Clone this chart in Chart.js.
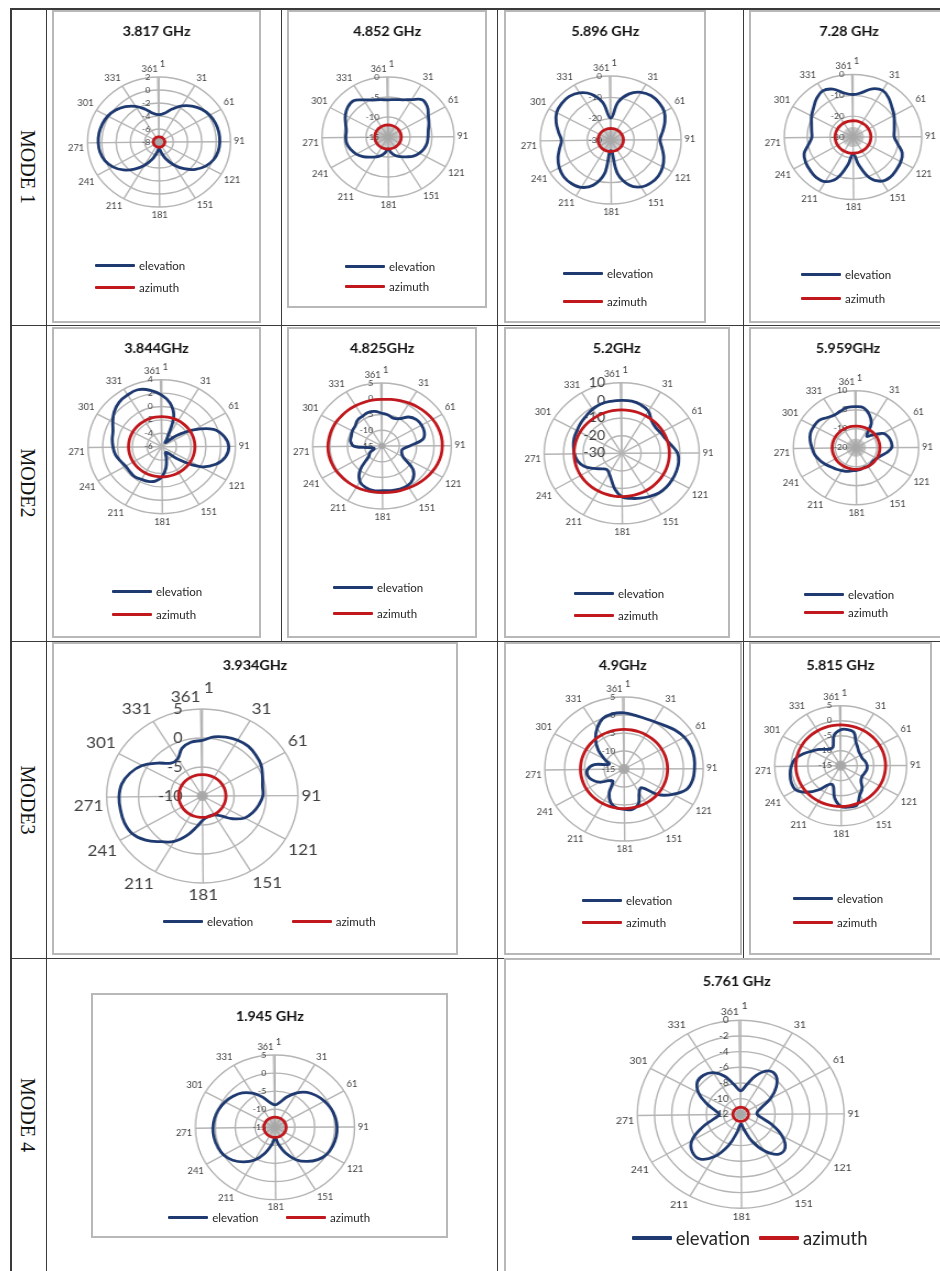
<!DOCTYPE html>
<html>
<head>
<meta charset="utf-8">
<title>Radiation patterns per mode</title>
<script src="https://cdn.jsdelivr.net/npm/chart.js@4.4.1/dist/chart.umd.min.js"></script>
<style>
  html, body { margin: 0; padding: 0; background: #fff; }
  #page { position: relative; width: 940px; height: 1271px; overflow: hidden; font-family: Lato, sans-serif; }
  .rule { position: absolute; background: #3a3a3a; }
  .box { position: absolute; border: 2px solid #b8b8b8; box-sizing: border-box; }
  .plot { position: absolute; transform-origin: 0 0; }
  .mode { position: absolute; font-family: 'Liberation Serif', serif; font-size: 20px; color: #111;
          white-space: nowrap; transform: translate(-50%, -50%) rotate(90deg); }
  .key { position: absolute; height: 20px; display: flex; align-items: center; color: #262626; white-space: nowrap; }
  .key i { display: inline-block; width: 40px; margin-right: 4px; border-radius: 1px; }
</style>
</head>
<body>
<div id="page"></div>
<script>
// ---- values (dB), one reading every 10 rows of the sheet ----
const sampleRows = [1, 11, 21, 31, 41, 51, 61, 71, 81, 91, 101, 111, 121, 131, 141, 151, 161, 171,
  181, 191, 201, 211, 221, 231, 241, 251, 261, 271, 281, 291, 301, 311, 321, 331, 341, 351];

// the spreadsheet rows 1..361 form the angular axis
const categories = Array.from({ length: 361 }, (_, i) => String(i + 1));

const freqLabels = ['3.817 GHz', '4.852 GHz', '5.896 GHz', '7.28 GHz',
  '3.844GHz', '4.825GHz', '5.2GHz', '5.959GHz',
  '3.934GHz', '4.9GHz', '5.815 GHz',
  '1.945 GHz', '5.761 GHz'];
const axisMin  = [-8, -15, -30, -30, -6, -15, -30, -20, -10, -15, -15, -15, -12];
const axisMax  = [2, 0, 0, 0, 4, 5, 10, 10, 5, 5, 5, 5, 0];
const axisStep = [2, 5, 10, 10, 2, 5, 10, 10, 5, 5, 5, 5, 2];
const modeNames = ['MODE 1', 'MODE2', 'MODE3', 'MODE 4'];
const seriesNames = ['elevation', 'azimuth'];

// elevation cuts
const el3817 = [-3.8, -3.5, -2.6, -1.6, -0.8, -0.2, 0.2, 0.4, 0.5, 0.5, 0.4, 0.1, -0.5, -1.4, -2.6, -3.9, -5.2, -6.4,
  -7.0, -6.4, -5.2, -3.9, -2.6, -1.4, -0.5, 0.1, 0.4, 0.5, 0.5, 0.4, 0.2, -0.2, -0.8, -1.6, -2.6, -3.5];
const el4852 = [-5.7, -5.5, -5.1, -4.2, -2.9, -3.3, -4.4, -5.1, -5.7, -5.9, -6, -6.3, -6.8, -7.5, -8.5, -9.3, -10, -11,
  -12, -11, -10, -9.3, -8.5, -7.5, -6.6, -6, -5.5, -5.4, -5.4, -4.8, -3.9, -3.2, -3.0, -4.2, -5.1, -5.5];
const el5896 = [-19.7, -12, -7, -4.2, -3, -3, -3.6, -5.4, -7.5, -9, -7.8, -6, -4.5, -3.6, -3.6, -4.5, -7.5, -14,
  -25, -14, -7.5, -4.5, -3.6, -3.6, -4.5, -6, -7.8, -9, -7.5, -5.4, -3.6, -3, -3, -4.2, -7, -12];
const el728 = [-9.6, -8.4, -5.4, -4.2, -5.7, -7.8, -9.3, -10.8, -11.7, -12, -10.2, -7.2, -6, -5.4, -4.8, -5.4, -9, -16.5,
  -21.9, -16.5, -9, -5.4, -4.8, -5.4, -6, -7.2, -10.2, -12, -11.7, -10.8, -9.3, -7.8, -5.7, -4.2, -5.4, -8.4];
const el3844 = [1.7, 0.6, -1.2, -4.5, -5.2, -3.5, -1, 1.5, 2.6, 3.1, 2.8, 1.8, 0, -3, -4.8, -5, -4.2, -2.8,
  -1.5, -0.8, -0.5, -0.4, -0.2, -0.3, -0.3, 0, 0.4, 0.6, 0.8, 1, 1.6, 2.3, 2.8, 3, 3.1, 2.6];
const el4825 = [-4.6, -5, -5.6, -5, -3, -2, -1.8, -2, -3, -7, -9, -9, -8, -3.4, -1.2, -0.4, -0.4, -0.6,
  -0.8, -0.6, -1, -2, -5, -10, -11, -12.6, -12, -7, -5.8, -5.6, -5.2, -5, -4.2, -4, -3.6, -3.8];
const el52 = [0, 0, -0.8, -2.4, -6, -7.2, -6.8, -6, -4, -1.2, -0.2, 0, 0, 0, -0.4, -1.6, -2.8, -4,
  -5.2, -9.2, -14, -16.8, -18, -16.4, -13.2, -9.2, -6.8, -5.6, -4.8, -4, -3.6, -2.8, -2, -0.8, 0, 0];
const el5959 = [1.6, 1.3, -1.4, -5.3, -12, -9.5, -5, -3.5, -2.9, -2.9, -5, -7.4, -8.6, -9.2, -8.9, -8.6, -8.9, -8.3,
  -8, -7.7, -6.8, -6.2, -5.3, -4.4, -2.9, -1.4, 0.1, 1, 2.2, 3.1, 3.1, 2.8, 1, 0.1, 0.7, 1.6];
const el3934 = [-0.4, 0.35, 0.8, 1.1, 1.2, 0.95, 0.65, 0.05, -0.4, -0.5, -1, -1.6, -2.35, -3.85, -5.5, -6.25, -6.4, -6.25,
  -5.8, -4.6, -2.8, -1, 0.2, 1.7, 2.75, 3.05, 3.05, 3.05, 2.8, 2, 0.8, -1, -2.5, -2.5, -1.15, -0.55];
const el49 = [0.6, 0.2, 0, 0.2, 0.8, 1.8, 2.6, 3, 3, 2.8, 2.6, 1.8, -0.8, -3.8, -8.2, -7.4, -4.6, -3.6,
  -3.8, -4, -5, -7.4, -10.6, -10, -7.8, -6.4, -5.6, -5.8, -7.4, -11, -9.4, -6.6, -4, -1.8, 0, 0.6];
const el5815 = [-3, -2.8, -3.2, -5.8, -7, -7.8, -8, -8, -7.4, -7, -7, -7.4, -7.6, -7, -5, -3.6, -1, -1,
  -1.4, -4, -8, -7.8, -4.6, -1.4, 0.8, 1, 0.6, 0, -1, -3, -5, -6.4, -7.8, -8.6, -8.4, -4.6];
const el1945 = [-8.8, -8, -6, -4, -2.4, -1.4, -0.6, 0, 0.4, 0.6, 0.6, 0.4, 0, -1, -2.6, -4.6, -7.4, -10.2,
  -12, -10.2, -7.4, -4.6, -2.6, -1, 0, 0.4, 0.6, 0.6, 0.4, 0, -0.6, -1.4, -2.4, -4, -6, -8];
const el5761 = [-9, -8.2, -6.7, -5.6, -5.6, -6.6, -8, -9.4, -10, -10.1, -9.6, -8.2, -6.5, -5.3, -5.3, -6.6, -8.4, -10.1,
  -10.8, -9.8, -7.8, -5.8, -4.6, -4.6, -5.4, -7.2, -8.8, -9.5, -9, -7.8, -6.4, -5.5, -5.4, -5.8, -6.8, -8.2];

// azimuth cuts
const az3817 = [-7.2, -7.2, -7.2, -7.2, -7.2, -7.2, -7.2, -7.2, -7.2, -7.2, -7.2, -7.2, -7.2, -7.2, -7.2, -7.2, -7.2, -7.2,
  -7.2, -7.2, -7.2, -7.2, -7.2, -7.2, -7.2, -7.2, -7.2, -7.2, -7.2, -7.2, -7.2, -7.2, -7.2, -7.2, -7.2, -7.2];
const az4852 = [-12, -12, -12, -12, -12, -12, -12, -12, -12, -12, -12, -12, -12, -12, -12, -12, -12, -12,
  -12, -12, -12, -12, -12, -12, -12, -12, -12, -12, -12, -12, -12, -12, -12, -12, -12, -12];
const az5896 = [-24.6, -24.6, -24.6, -24.6, -24.6, -24.6, -24.6, -24.6, -24.6, -24.6, -24.6, -24.6, -24.6, -24.6, -24.6, -24.6, -24.6, -24.6,
  -24.6, -24.6, -24.6, -24.6, -24.6, -24.6, -24.6, -24.6, -24.6, -24.6, -24.6, -24.6, -24.6, -24.6, -24.6, -24.6, -24.6, -24.6];
const az728 = [-22.2, -22.2, -22.2, -22.2, -22.2, -22.2, -22.2, -22.2, -22.2, -22.2, -22.2, -22.2, -22.2, -22.2, -22.2, -22.2, -22.2, -22.2,
  -22.2, -22.2, -22.2, -22.2, -22.2, -22.2, -22.2, -22.2, -22.2, -22.2, -22.2, -22.2, -22.2, -22.2, -22.2, -22.2, -22.2, -22.2];
const az3844 = [-1.5, -1.5, -1.5, -1.5, -1.5, -1.5, -1.5, -1.5, -1.5, -1.5, -1.5, -1.5, -1.5, -1.5, -1.5, -1.5, -1.5, -1.5,
  -1.5, -1.5, -1.5, -1.5, -1.5, -1.5, -1.5, -1.5, -1.5, -1.5, -1.5, -1.5, -1.5, -1.5, -1.5, -1.5, -1.5, -1.5];
const az4825 = [-0.2, 0, 0.3, 0.7, 1.1, 1.5, 1.9, 2.2, 2.4, 2.4, 2.3, 2, 1.6, 1.2, 0.8, 0.4, 0.1, -0.1,
  -0.2, -0.2, -0.1, 0, 0.1, 0.2, 0.4, 0.5, 0.6, 0.6, 0.5, 0.4, 0.3, 0.1, 0, -0.1, -0.2, -0.2];
const az52 = [-5.4, -5.4, -5.4, -5.4, -5.4, -5.4, -5.4, -5.4, -5.4, -5.4, -5.4, -5.4, -5.4, -5.4, -5.4, -5.4, -5.4, -5.4,
  -5.4, -5.4, -5.4, -5.4, -5.4, -5.4, -5.4, -5.4, -5.4, -5.4, -5.4, -5.4, -5.4, -5.4, -5.4, -5.4, -5.4, -5.4];
const az5959 = [-8.6, -8.6, -8.6, -8.6, -8.6, -8.6, -8.6, -8.6, -8.6, -8.6, -8.6, -8.6, -8.6, -8.6, -8.6, -8.6, -8.6, -8.6,
  -8.6, -8.6, -8.6, -8.6, -8.6, -8.6, -8.6, -8.6, -8.6, -8.6, -8.6, -8.6, -8.6, -8.6, -8.6, -8.6, -8.6, -8.6];
const az3934 = [-6.3, -6.3, -6.3, -6.3, -6.3, -6.3, -6.3, -6.3, -6.3, -6.3, -6.3, -6.3, -6.3, -6.3, -6.3, -6.3, -6.3, -6.3,
  -6.3, -6.3, -6.3, -6.3, -6.3, -6.3, -6.3, -6.3, -6.3, -6.3, -6.3, -6.3, -6.3, -6.3, -6.3, -6.3, -6.3, -6.3];
const az49 = [-4, -4, -4, -4, -4, -4, -4, -4, -4, -4, -4, -4, -4, -4, -4, -4, -4, -4,
  -4, -4, -4, -4, -4, -4, -4, -4, -4, -4, -4, -4, -4, -4, -4, -4, -4, -4];
const az5815 = [-1.4, -1.4, -1.4, -1.4, -1.4, -1.4, -1.4, -1.4, -1.4, -1.4, -1.4, -1.4, -1.4, -1.4, -1.4, -1.4, -1.4, -1.4,
  -1.4, -1.4, -1.4, -1.4, -1.4, -1.4, -1.4, -1.4, -1.4, -1.4, -1.4, -1.4, -1.4, -1.4, -1.4, -1.4, -1.4, -1.4];
const az1945 = [-12.2, -12.2, -12.2, -12.2, -12.2, -12.2, -12.2, -12.2, -12.2, -12.2, -12.2, -12.2, -12.2, -12.2, -12.2, -12.2, -12.2, -12.2,
  -12.2, -12.2, -12.2, -12.2, -12.2, -12.2, -12.2, -12.2, -12.2, -12.2, -12.2, -12.2, -12.2, -12.2, -12.2, -12.2, -12.2, -12.2];
const az5761 = [-11.1, -11.1, -11.1, -11.1, -11.1, -11.1, -11.1, -11.1, -11.1, -11.1, -11.1, -11.1, -11.1, -11.1, -11.1, -11.1, -11.1, -11.1,
  -11.1, -11.1, -11.1, -11.1, -11.1, -11.1, -11.1, -11.1, -11.1, -11.1, -11.1, -11.1, -11.1, -11.1, -11.1, -11.1, -11.1, -11.1];

const elevations = [el3817, el4852, el5896, el728, el3844, el4825, el52, el5959, el3934, el49, el5815, el1945, el5761];
const azimuths   = [az3817, az4852, az5896, az728, az3844, az4825, az52, az5959, az3934, az49, az5815, az1945, az5761];

// ---- layout (page pixels) ----
const SX = 1.1;            // the scanned figure is stretched sideways
const NAVY = '#1f3a70';
const RED = '#c0181d';
const GRID = '#b4b4b4';

// box: [x, y, w, h]; c: plot centre; r: outer radius; key: legend placement
const panels = [
  { box: [52, 10, 209, 313],  c: [159, 142],     r: 65,   ty: 32,    key: { x: 95,  y: [265, 287] }, hub: 4 },
  { box: [287, 10, 200, 298], c: [388, 137],     r: 60,   ty: 32,    key: { x: 345, y: [266, 286] }, hub: 11 },
  { box: [504, 10, 202, 313], c: [610.7, 140],   r: 64,   ty: 32,    key: { x: 563, y: [273, 301] }, hub: 11 },
  { box: [749, 10, 200, 313], c: [853, 137],     r: 62.5, ty: 32,    key: { x: 801, y: [274, 298] }, hub: 10 },
  { box: [52, 327, 209, 311], c: [161.7, 446.7], r: 67,   ty: 349,   key: { x: 112, y: [591, 614] }, hub: 0 },
  { box: [287, 327, 190, 311], c: [382, 446],    r: 63,   ty: 349,   key: { x: 333, y: [587, 613] }, hub: 3 },
  { box: [504, 327, 226, 311], c: [621.7, 453.3], r: 70.5, ty: 349,  key: { x: 574, y: [593, 615] }, hub: 0, tick: 13, gap: 15 },
  { box: [749, 327, 198, 311], c: [856, 447.7],  r: 57,   ty: 349,   key: { x: 804, y: [594, 612] }, hub: 9 },
  { box: [52, 642, 406, 313], c: [202.3, 796],   r: 87,   ty: 665.7, key: { x: [163, 291.7], y: 921.7 }, hub: 5, tick: 14.5, gap: 18, pl: 15.5 },
  { box: [504, 642, 238, 313], c: [624, 769],    r: 72,   ty: 665.7, key: { x: 582, y: [900, 922] }, hub: 5 },
  { box: [749, 642, 183, 313], c: [840.7, 765.7], r: 60,  ty: 665.7, key: { x: 793, y: [898, 922] }, hub: 5 },
  { box: [91, 993, 357, 245], c: [275, 1127.3],  r: 72.3, ty: 1016.7, key: { x: [168.3, 286], y: 1217.7 }, hub: 9 },
  { box: [504, 958, 465, 317], c: [740.7, 1114.3], r: 94, ty: 981.7, key: { x: [631.7, 759], y: 1238, size: 18.5, thick: 3.5 }, hub: 5, pl: 9.5, tick: 9, gap: 11 }
];

// table rules: [x, y, w, h]
const rules = [
  [10, 8, 930, 1.5], [10, 8, 1.5, 1263], [45.5, 8, 1.5, 1263],
  [10, 324.5, 930, 1.5], [10, 640.5, 930, 1.5], [10, 957.5, 930, 1.5],
  [280.5, 8, 1.5, 633], [496.5, 8, 1.5, 1263], [742.5, 8, 1.5, 950]
];
const modeY = [166.5, 483, 799.5, 1114.5];

Chart.defaults.font.family = 'Lato';

// put each reading on its spreadsheet row, leave the other rows empty
function spread(values) {
  const out = new Array(categories.length).fill(null);
  sampleRows.forEach((row, k) => { out[row - 1] = values[k]; });
  return out;
}

// grey spokes that pile up at the centre in the original sheet
const hubPlugin = {
  id: 'hub',
  beforeDatasetsDraw(chart, args, opts) {
    if (!opts.radius) return;
    const s = chart.scales.r;
    const ctx = chart.ctx;
    ctx.save();
    ctx.strokeStyle = '#a8a8a8';
    ctx.lineWidth = 0.7;
    ctx.beginPath();
    for (let i = 0; i < categories.length; i += 6) {
      const pt = s.getPointPosition(i, opts.radius);
      ctx.moveTo(s.xCenter, s.yCenter);
      ctx.lineTo(pt.x, pt.y);
    }
    ctx.stroke();
    ctx.restore();
  }
};

// value labels sit to the left of the vertical spoke, as Excel places them
const sideTicks = {
  id: 'sideTicks',
  beforeDatasetsDraw(chart, args, opts) {
    const s = chart.scales.r;
    const ctx = chart.ctx;
    ctx.save();
    ctx.font = opts.size + 'px Lato';
    ctx.fillStyle = '#404040';
    ctx.textAlign = 'right';
    ctx.textBaseline = 'middle';
    s.ticks.forEach(t => {
      const d = s.getDistanceFromCenterForValue(t.value);
      ctx.fillText(t.label, s.xCenter - opts.gap, s.yCenter - d);
    });
    ctx.restore();
  }
};

Chart.register(hubPlugin, sideTicks);

const page = document.getElementById('page');

rules.forEach(([x, y, w, h]) => {
  const d = document.createElement('div');
  d.className = 'rule';
  Object.assign(d.style, { left: x + 'px', top: y + 'px', width: w + 'px', height: h + 'px' });
  page.appendChild(d);
});

modeNames.forEach((name, i) => {
  const d = document.createElement('div');
  d.className = 'mode';
  d.textContent = name;
  d.style.left = '27px';
  d.style.top = modeY[i] + 'px';
  page.appendChild(d);
});

function addKey(x, y, name, color, size, thick) {
  const k = document.createElement('div');
  k.className = 'key';
  k.style.left = x + 'px';
  k.style.top = (y - 10) + 'px';
  k.style.fontSize = size + 'px';
  const line = document.createElement('i');
  line.style.background = color;
  line.style.height = thick + 'px';
  k.appendChild(line);
  k.appendChild(document.createTextNode(name));
  page.appendChild(k);
}

panels.forEach((p, i) => {
  const [bx, by, bw, bh] = p.box;

  const frame = document.createElement('div');
  frame.className = 'box';
  Object.assign(frame.style, { left: bx + 'px', top: by + 'px', width: bw + 'px', height: bh + 'px' });
  page.appendChild(frame);

  const canvas = document.createElement('canvas');
  canvas.className = 'plot';
  canvas.width = Math.round(bw / SX);
  canvas.height = bh;
  canvas.style.left = bx + 'px';
  canvas.style.top = by + 'px';
  canvas.style.transform = 'scaleX(' + SX + ')';
  page.appendChild(canvas);

  const cx = (p.c[0] - bx) / SX;
  const cy = p.c[1] - by;
  const plSize = p.pl || 8.5;

  new Chart(canvas, {
    type: 'radar',
    data: {
      labels: categories,
      datasets: [
        { label: seriesNames[0], data: spread(elevations[i]), borderColor: NAVY, borderWidth: 2.8,
          pointRadius: 0, fill: false, tension: 0.4, spanGaps: true, order: 1 },
        { label: seriesNames[1], data: spread(azimuths[i]), borderColor: RED, borderWidth: 2.8,
          pointRadius: 0, fill: false, tension: 0.4, spanGaps: true, order: 0 }
      ]
    },
    options: {
      responsive: false,
      animation: false,
      devicePixelRatio: 1,
      events: [],
      layout: { padding: 0 },
      elements: { line: { borderJoinStyle: 'round', borderCapStyle: 'round' } },
      scales: {
        r: {
          min: axisMin[i],
          max: axisMax[i],
          afterSetDimensions: (s) => {
            s.xCenter = cx;
            s.yCenter = cy;
            s.drawingArea = p.r;
          },
          ticks: { display: false, stepSize: axisStep[i] },
          grid: { circular: true, color: GRID, lineWidth: 1.4 },
          angleLines: { color: GRID, lineWidth: (c) => (c.index % 30 === 0 ? 1.4 : 0) },
          pointLabels: {
            color: '#404040',
            // the first row label rides a little higher, beside the last one
            padding: (c) => (c.index === 0 ? 3 + plSize * 0.55 : 3),
            font: { size: plSize },
            callback: (label, idx) => (idx === 0 ? '   ' + label : idx % 30 === 0 ? label : '')
          }
        }
      },
      plugins: {
        legend: { display: false },
        tooltip: { enabled: false },
        title: {
          display: true,
          text: freqLabels[i],
          color: '#111',
          font: { size: 13, weight: 'bold' },
          padding: { top: p.ty - by - 7.8, bottom: 0 }
        },
        hub: { radius: p.hub },
        sideTicks: { size: p.tick || 8, gap: p.gap || 8 }
      }
    }
  });

  const key = p.key;
  const size = key.size || 11.5;
  const thick = key.thick || 3;
  if (Array.isArray(key.x)) {
    addKey(key.x[0], key.y, seriesNames[0], NAVY, size, thick);
    addKey(key.x[1], key.y, seriesNames[1], RED, size, thick);
  } else {
    addKey(key.x, key.y[0], seriesNames[0], NAVY, size, thick);
    addKey(key.x, key.y[1], seriesNames[1], RED, size, thick);
  }
});
</script>
</body>
</html>
